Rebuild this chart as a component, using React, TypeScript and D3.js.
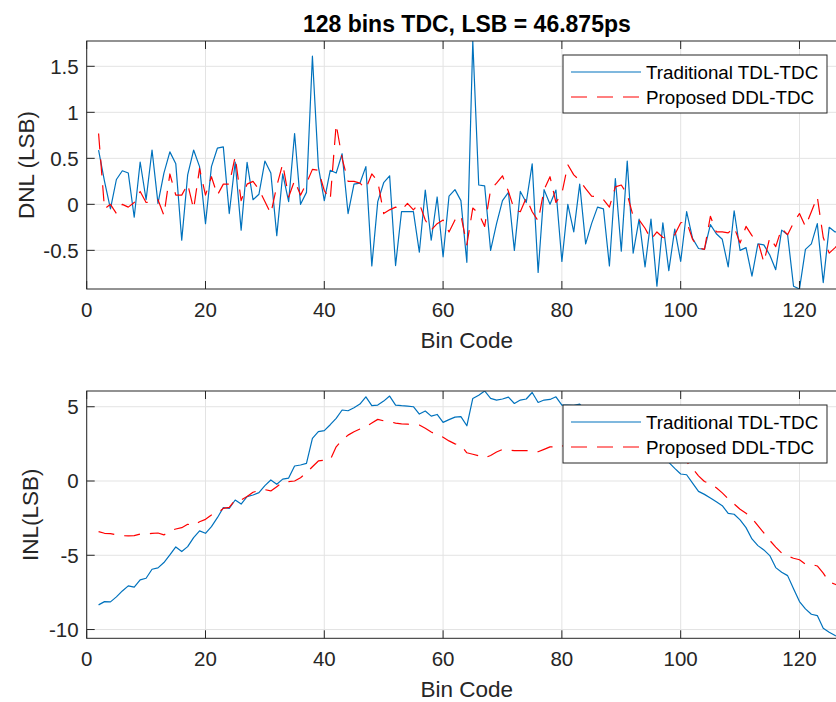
import React from "react";
import * as d3 from "d3";

// ---- data (bins 2..127) ----
const bins: number[] = Array.from({ length: 126 }, (_, i) => i + 2);

const dnlTraditional: number[] = [
  0.59, 0.25, -0.05, 0.27, 0.365, 0.34, -0.14, 0.46, 0.05, 0.59,
  0.01, 0.34, 0.57, 0.44, -0.39, 0.32, 0.59, 0.41, -0.21, 0.41,
  0.61, 0.625, -0.1, 0.46, -0.28, 0.455, 0.05, 0.11, 0.47, 0.34,
  -0.34, 0.33, 0.03, 0.77, 0.0, 0.13, 1.61, 0.41, 0.04, 0.37,
  0.34, 0.55, -0.1, 0.22, 0.23, 0.41, -0.67, 0.03, 0.235, 0.31,
  -0.665, -0.08, -0.08, -0.08, -0.52, 0.155, -0.39, 0.08, -0.57, 0.09,
  0.16, 0.04, -0.63, 1.775, 0.21, 0.2, -0.5, -0.21, 0.04, 0.13,
  -0.5, 0.14, 0.02, 0.44, -0.74, 0.16, 0.0, 0.155, -0.62, 0.0,
  -0.3, 0.22, -0.43, -0.21, -0.03, -0.05, -0.67, 0.28, -0.51, 0.47,
  -0.53, -0.16, -0.68, -0.16, -0.89, -0.2, -0.72, -0.27, -0.62, -0.08,
  -0.37, -0.48, -0.49, -0.22, -0.32, -0.38, -0.68, -0.07, -0.5, -0.47,
  -0.78, -0.43, -0.44, -0.55, -0.71, -0.28, -0.33, -0.89, -0.92, -0.49,
  -0.43, -0.21, -0.85, -0.25, -0.3, -0.3,
];

const dnlProposed: number[] = [
  0.77, -0.05, 0.0, -0.1, 0.0, -0.03, 0.02, 0.14, 0.02, 0.03,
  0.05, -0.12, 0.33, 0.1, 0.1, 0.22, -0.05, 0.39, 0.1, 0.3,
  0.1, 0.22, 0.22, 0.52, 0.04, 0.22, 0.25, 0.16, 0.03, -0.1,
  0.2, 0.44, 0.08, 0.26, 0.1, 0.23, 0.38, 0.37, 0.15, 0.05,
  0.87, 0.5, 0.25, 0.25, 0.23, 0.17, 0.33, 0.25, -0.1, -0.06,
  -0.03, -0.06, 0.01, -0.06, 0.01, -0.17, -0.28, -0.21, -0.17, -0.3,
  -0.17, -0.12, -0.44, -0.04, -0.1, -0.24, 0.16, 0.23, 0.31, 0.14,
  -0.06, -0.08, 0.07, -0.08, -0.18, 0.16, 0.3, 0.02, 0.12, 0.43,
  0.32, 0.26, 0.17, 0.09, 0.08, 0.05, -0.03, 0.19, 0.21, 0.11,
  -0.13, -0.17, -0.26, -0.38, -0.3, -0.36, -0.37, -0.33, -0.2, -0.19,
  -0.38, -0.47, -0.49, -0.13, -0.3, -0.3, -0.31, -0.25, -0.42, -0.24,
  -0.34, -0.4, -0.63, -0.36, -0.46, -0.26, -0.33, -0.2, -0.1, -0.24,
  -0.08, 0.08, -0.36, -0.53, -0.47, -0.4,
];

const inlTraditional: number[] = [
  -8.34, -8.12, -8.14, -7.8, -7.4, -7.06, -7.15, -6.66, -6.55, -5.94,
  -5.85, -5.49, -4.98, -4.44, -4.75, -4.42, -3.81, -3.36, -3.52, -3.07,
  -2.47, -1.79, -1.84, -1.28, -1.55, -1.05, -0.94, -0.78, -0.31, 0.07,
  -0.22, 0.13, 0.2, 1.01, 1.08, 1.19, 2.87, 3.32, 3.39, 3.79,
  4.22, 4.78, 4.73, 4.93, 5.18, 5.67, 5.07, 5.11, 5.38, 5.72,
  5.11, 5.07, 5.04, 5.0, 4.51, 4.71, 4.37, 4.48, 3.95, 4.13,
  4.3, 4.33, 3.72, 5.56, 5.78, 6.06, 5.56, 5.45, 5.52, 5.65,
  5.22, 5.45, 5.52, 5.96, 5.29, 5.45, 5.49, 5.67, 5.11, 5.11,
  5.1, 5.18, 4.75, 4.54, 4.51, 4.46, 3.85, 4.05, 3.6, 3.95,
  3.45, 3.25, 2.7, 2.5, 1.8, 1.6, 1.25, 0.85, 0.47, 0.42,
  -0.14, -0.7, -0.9, -1.15, -1.4, -1.66, -2.18, -2.24, -2.62, -3.14,
  -3.9, -4.35, -4.64, -5.02, -5.83, -6.14, -6.37, -7.26, -8.12, -8.61,
  -8.97, -9.06, -9.91, -10.18, -10.4, -10.59,
];

const inlProposed: number[] = [
  -3.41, -3.52, -3.54, -3.63, -3.68, -3.7, -3.68, -3.57, -3.57, -3.52,
  -3.5, -3.63, -3.36, -3.23, -3.14, -2.91, -3.0, -2.74, -2.58, -2.29,
  -2.2, -1.84, -1.77, -1.28, -1.28, -1.05, -0.76, -0.63, -0.58, -0.67,
  -0.38, -0.09, -0.04, 0.0, 0.22, 0.56, 0.96, 1.35, 1.41, 1.42,
  2.3, 2.75, 3.09, 3.32, 3.5, 3.65, 3.9, 4.15, 4.05, 4.0,
  3.9, 3.85, 3.83, 3.8, 3.77, 3.55, 3.3, 3.1, 2.95, 2.7,
  2.5, 2.4, 1.9, 1.8, 1.7, 1.55, 1.72, 1.95, 2.13, 2.1,
  2.04, 2.05, 2.04, 2.05, 1.97, 2.13, 2.3, 2.31, 2.3, 2.7,
  3.0, 3.25, 3.4, 3.5, 3.55, 3.6, 3.55, 3.7, 3.9, 3.95,
  3.8, 3.6, 3.35, 3.0, 2.7, 2.4, 2.1, 1.9, 1.65, 1.3,
  0.85, 0.35, -0.03, -0.2, -0.45, -0.8, -1.2, -1.55, -1.9, -2.17,
  -2.5, -3.0, -3.5, -4.0, -4.45, -4.85, -5.05, -5.2, -5.3, -5.6,
  -5.62, -5.72, -6.2, -6.8, -6.95, -7.1,
];

const xTicks: number[] = [0, 20, 40, 60, 80, 100, 120];
const dnlTicks: number[] = [-0.5, 0, 0.5, 1, 1.5];
const inlTicks: number[] = [-10, -5, 0, 5];
const seriesNames: string[] = ["Traditional TDL-TDC", "Proposed DDL-TDC"];
const titleText = "128 bins TDC, LSB = 46.875ps";

// ---- styling / layout ----
const W = 836;
const H = 702;
const AX_L = 86.7;
const AX_R = 847;
const BLUE = "#0072BD";
const RED = "#FF0000";
const AXC = "#262626";
const GRID = "#e3e3e3";
const FONT = "'Liberation Sans', Arial, Helvetica, sans-serif";

type PanelProps = {
  id: string;
  top: number;
  bottom: number;
  yDomain: [number, number];
  yTicks: number[];
  a: number[];
  b: number[];
  ylabel: string;
  legendTop: number;
};

function Panel(p: PanelProps) {
  const x = d3.scaleLinear().domain([0, 128]).range([AX_L, AX_R]);
  const y = d3.scaleLinear().domain(p.yDomain).range([p.bottom, p.top]);
  const line = d3
    .line<number>()
    .x((_, i) => x(bins[i]))
    .y((d) => y(d));
  const clipId = "clip-" + p.id;
  const tickLen = 8;
  const legL = 563;
  const legR = 827;
  const legT = p.legendTop;
  const legB = p.legendTop + 58;
  const row1 = legT + 17;
  const row2 = legT + 42;
  return (
    <g>
      <defs>
        <clipPath id={clipId}>
          <rect x={AX_L} y={p.top} width={AX_R - AX_L} height={p.bottom - p.top} />
        </clipPath>
      </defs>
      <rect x={AX_L} y={p.top} width={AX_R - AX_L} height={p.bottom - p.top} fill="#fff" />
      {/* grid */}
      {xTicks.map((t) => (
        <line key={"gx" + t} x1={x(t)} x2={x(t)} y1={p.top} y2={p.bottom} stroke={GRID} strokeWidth={1} />
      ))}
      {p.yTicks.map((t) => (
        <line key={"gy" + t} x1={AX_L} x2={AX_R} y1={y(t)} y2={y(t)} stroke={GRID} strokeWidth={1} />
      ))}
      {/* data */}
      <g clipPath={`url(#${clipId})`}>
        <path d={line(p.a) || ""} fill="none" stroke={BLUE} strokeWidth={1.2} strokeLinejoin="round" />
        <path
          d={line(p.b) || ""}
          fill="none"
          stroke={RED}
          strokeWidth={1.2}
          strokeDasharray="16,10"
          strokeLinejoin="round"
        />
      </g>
      {/* axes box */}
      <rect x={AX_L} y={p.top} width={AX_R - AX_L} height={p.bottom - p.top} fill="none" stroke={AXC} strokeWidth={1} />
      {/* ticks */}
      {xTicks.map((t) => (
        <g key={"tx" + t}>
          <line x1={x(t)} x2={x(t)} y1={p.bottom} y2={p.bottom - tickLen} stroke={AXC} strokeWidth={1} />
          <line x1={x(t)} x2={x(t)} y1={p.top} y2={p.top + tickLen} stroke={AXC} strokeWidth={1} />
          <text
            x={x(t)}
            y={p.bottom + 28}
            textAnchor="middle"
            fontSize={20.5}
            fill={AXC}
            fontFamily={FONT}
          >
            {String(t)}
          </text>
        </g>
      ))}
      {p.yTicks.map((t) => (
        <g key={"ty" + t}>
          <line x1={AX_L} x2={AX_L + tickLen} y1={y(t)} y2={y(t)} stroke={AXC} strokeWidth={1} />
          <text
            x={AX_L - 8}
            y={y(t)}
            dy="0.36em"
            textAnchor="end"
            fontSize={20.5}
            fill={AXC}
            fontFamily={FONT}
          >
            {String(t)}
          </text>
        </g>
      ))}
      {/* labels */}
      <text
        x={(AX_L + AX_R) / 2}
        y={p.bottom + 59}
        textAnchor="middle"
        fontSize={22.5}
        fill={AXC}
        fontFamily={FONT}
      >
        Bin Code
      </text>
      <text
        transform={`translate(${p.id === "dnl" ? 34 : 38},${(p.top + p.bottom) / 2}) rotate(-90)`}
        textAnchor="middle"
        fontSize={22.5}
        fill={AXC}
        fontFamily={FONT}
      >
        {p.ylabel}
      </text>
      {/* legend */}
      <rect x={legL} y={legT} width={legR - legL} height={legB - legT} fill="#fff" stroke={AXC} strokeWidth={1} />
      <line x1={571} x2={641} y1={row1} y2={row1} stroke={BLUE} strokeWidth={1.2} />
      <line x1={571} x2={641} y1={row2} y2={row2} stroke={RED} strokeWidth={1.2} strokeDasharray="16,10" />
      <text x={646} y={row1} dy="0.36em" fontSize={18.8} fill="#000" fontFamily={FONT}>
        {seriesNames[0]}
      </text>
      <text x={646} y={row2} dy="0.36em" fontSize={18.8} fill="#000" fontFamily={FONT}>
        {seriesNames[1]}
      </text>
    </g>
  );
}

export default function App() {
  return (
    <svg
      width={W}
      height={H}
      viewBox={`0 0 ${W} ${H}`}
      style={{ position: "absolute", left: 0, top: 0, display: "block", background: "#fff" }}
    >
      <rect x={0} y={0} width={W} height={H} fill="#fff" />
      <text
        x={(AX_L + AX_R) / 2}
        y={31.5}
        textAnchor="middle"
        fontSize={23}
        fontWeight="bold"
        fill="#000"
        fontFamily={FONT}
      >
        {titleText}
      </text>
      <Panel
        id="dnl"
        top={41}
        bottom={289}
        yDomain={[-0.92, 1.775]}
        yTicks={dnlTicks}
        a={dnlTraditional}
        b={dnlProposed}
        ylabel="DNL (LSB)"
        legendTop={55}
      />
      <Panel
        id="inl"
        top={391}
        bottom={638.3}
        yDomain={[-10.59, 6.06]}
        yTicks={inlTicks}
        a={inlTraditional}
        b={inlProposed}
        ylabel="INL(LSB)"
        legendTop={405}
      />
    </svg>
  );
}
